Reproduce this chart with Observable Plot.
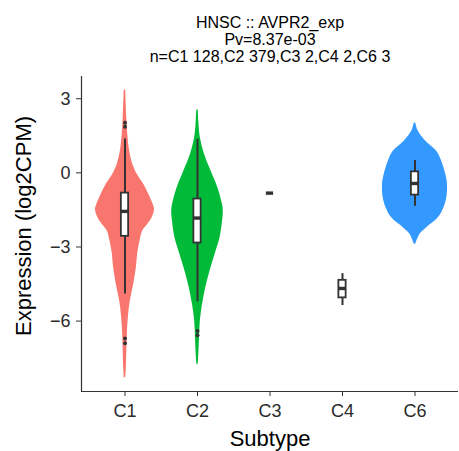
<!DOCTYPE html>
<html><head><meta charset="utf-8">
<script src="https://cdn.jsdelivr.net/npm/d3@7"></script>
<script src="https://cdn.jsdelivr.net/npm/@observablehq/plot@0.6"></script>
<style>html,body{margin:0;padding:0;background:#fff}</style>
</head><body><div id="chart"></div>
<script>
const subtypes = ["C1", "C2", "C3", "C4", "C6"];
const counts = [128, 379, 2, 2, 3];
const titleText = "HNSC :: AVPR2_exp";
const pvText = "Pv=8.37e-03";
const yTicks = [3, 0, -3, -6];

// violin outlines: expression value and half-width (category units)
const violinC1Y = [3.35, 2.21, 1.53, 0.86, 0.32, -0.08, -0.48, -0.89, -1.29, -1.49, -1.83, -2.10, -2.37, -2.77, -3.18, -3.85, -4.52, -5.19, -5.86, -6.54, -7.21, -7.88, -8.29];
const violinC1W = [0.01, 0.025, 0.039, 0.065, 0.110, 0.172, 0.262, 0.331, 0.390, 0.407, 0.372, 0.310, 0.241, 0.207, 0.179, 0.156, 0.120, 0.073, 0.046, 0.032, 0.025, 0.018, 0.01];
const violinC2Y = [2.54, 1.94, 1.40, 0.73, 0.05, -0.62, -1.29, -1.56, -1.96, -2.64, -3.31, -3.98, -4.65, -5.33, -6.00, -6.67, -7.34, -7.75];
const violinC2W = [0.01, 0.021, 0.041, 0.099, 0.190, 0.283, 0.345, 0.356, 0.345, 0.310, 0.241, 0.172, 0.114, 0.069, 0.039, 0.028, 0.018, 0.01];
const violinC6Y = [2.02, 1.68, 1.28, 0.87, 0.47, -0.07, -0.47, -1.01, -1.41, -1.82, -2.22, -2.49, -2.89];
const violinC6W = [0.01, 0.046, 0.149, 0.299, 0.368, 0.425, 0.448, 0.439, 0.400, 0.321, 0.161, 0.069, 0.01];

// box plot statistics per subtype
const boxMax = [1.37, 1.36, -0.82, -4.08, 0.50];
const boxQ3 = [-0.82, -1.06, -0.82, -4.35, 0.04];
const boxMed = [-1.56, -1.83, -0.82, -4.68, -0.43];
const boxQ1 = [-2.57, -2.84, -0.82, -5.06, -0.90];
const boxMin = [-4.90, -5.22, -0.82, -5.37, -1.35];

const outlierGroup = ["C1", "C1", "C1", "C1", "C2", "C2"];
const outlierValue = [2.03, 1.87, -6.70, -6.90, -6.40, -6.57];

const violinGroups = ["C1", "C2", "C6"];
const violinColors = ["#F8766D", "#00BA38", "#3399FF"];

const pos = g => subtypes.indexOf(g) + 1;
const violins = [];
[["C1", violinC1Y, violinC1W], ["C2", violinC2Y, violinC2W], ["C6", violinC6Y, violinC6W]].forEach(([g, ys, ws]) => {
  ys.forEach((y, i) => violins.push({g, x: pos(g), y, w: ws[i]}));
});
const boxes = subtypes.map((g, i) => ({g, x: i + 1, max: boxMax[i], q3: boxQ3[i], med: boxMed[i], q1: boxQ1[i], min: boxMin[i]}));
const outliers = outlierGroup.map((g, i) => ({x: pos(g), y: outlierValue[i]}));

const nText = "n=" + subtypes.map((s, i) => s + " " + counts[i]).join(",");
const bw = 0.05;
const font = "'Liberation Sans', Arial, Helvetica, sans-serif";
const ink = "#333333";

const chart = Plot.plot({
  width: 459, height: 451,
  marginLeft: 81, marginRight: 1, marginTop: 76, marginBottom: 60,
  style: {fontFamily: font, background: "#fff", overflow: "visible"},
  x: {domain: [0.4, 5.6], axis: null},
  y: {domain: [-8.85, 3.9], axis: null},
  color: {domain: violinGroups, range: violinColors},
  marks: [
    Plot.areaX(violins, {y: "y", x1: d => d.x - d.w, x2: d => d.x + d.w, fill: "g", z: "g", curve: "catmull-rom"}),
    Plot.ruleX(boxes, {x: "x", y1: "q3", y2: "max", stroke: ink, strokeWidth: 2}),
    Plot.ruleX(boxes, {x: "x", y1: "q1", y2: "min", stroke: ink, strokeWidth: 2}),
    Plot.rect(boxes, {x1: d => d.x - bw, x2: d => d.x + bw, y1: "q1", y2: "q3", fill: "white", stroke: ink, strokeWidth: 1.8}),
    Plot.ruleY(boxes, {y: "med", x1: d => d.x - bw, x2: d => d.x + bw, stroke: ink, strokeWidth: 3.4}),
    Plot.dot(outliers, {x: "x", y: "y", r: 2, fill: ink, stroke: null}),
    Plot.ruleX([0.4], {stroke: ink, strokeWidth: 1.2}),
    Plot.ruleY([-8.85], {stroke: ink, strokeWidth: 1.2}),
    Plot.axisY(yTicks, {tickSize: 5, tickPadding: 6, fontSize: 18, label: null, stroke: ink, color: "#2b2b2b"}),
    Plot.axisX([1, 2, 3, 4, 5], {tickSize: 5, tickPadding: 8, fontSize: 18, label: null, stroke: ink, color: "#2b2b2b", tickFormat: i => subtypes[i - 1]}),
    Plot.text([titleText], {frameAnchor: "top", dy: -59.5, lineAnchor: "top", fontSize: 16, fill: "black"}),
    Plot.text([pvText], {frameAnchor: "top", dy: -42.5, lineAnchor: "top", fontSize: 16, fill: "black"}),
    Plot.text([nText], {frameAnchor: "top", dy: -25.5, lineAnchor: "top", fontSize: 16, fill: "black"}),
    Plot.text(["Subtype"], {frameAnchor: "bottom", dy: 39, lineAnchor: "top", fontSize: 22, fill: "black"}),
    Plot.text(["Expression (log2CPM)"], {frameAnchor: "left", dx: -58, dy: -8, rotate: -90, textAnchor: "middle", lineAnchor: "middle", fontSize: 22, fill: "black"})
  ]
});
document.getElementById("chart").appendChild(chart);
</script>
</body></html>
